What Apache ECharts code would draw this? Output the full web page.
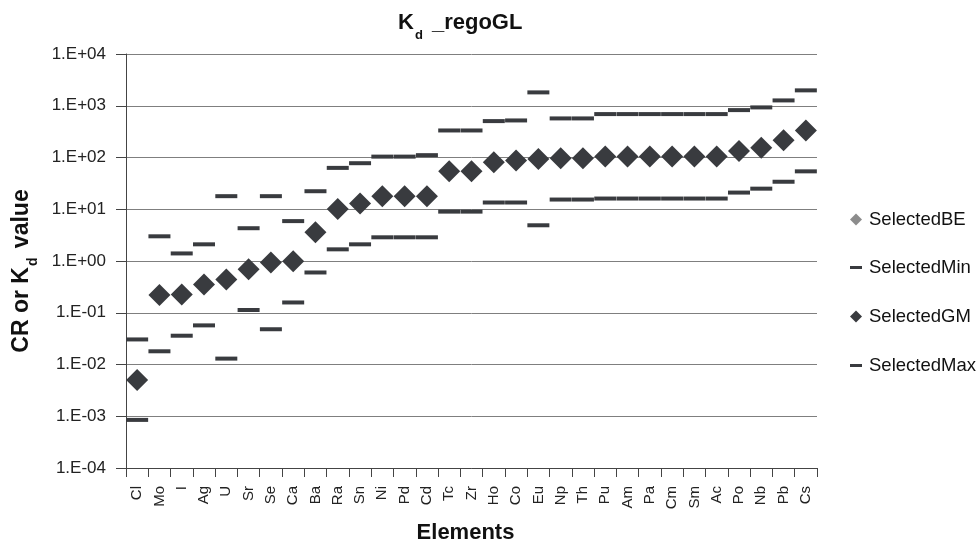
<!DOCTYPE html>
<html>
<head>
<meta charset="utf-8">
<script src="https://cdn.jsdelivr.net/npm/echarts@6/dist/echarts.min.js"></script>
<style>
  html, body { margin: 0; padding: 0; background: #fff; }
  #chart { width: 978px; height: 544px; }
</style>
</head>
<body>
<div id="chart"></div>
<script>
// Elements along the x axis
const elements = ['Cl', 'Mo', 'I', 'Ag', 'U', 'Sr', 'Se', 'Ca', 'Ba', 'Ra', 'Sn', 'Ni', 'Pd', 'Cd',
  'Tc', 'Zr', 'Ho', 'Co', 'Eu', 'Np', 'Th', 'Pu', 'Am', 'Pa', 'Cm', 'Sm', 'Ac', 'Po', 'Nb', 'Pb', 'Cs'];

// Best estimates (no values plotted for this set)
const selectedBE = elements.map(() => null);

// Lower bounds
const selectedMin = [0.00085, 0.018, 0.036, 0.057, 0.013, 0.113, 0.048, 0.158, 0.60, 1.68, 2.1, 2.87, 2.87, 2.87,
  9.0, 9.0, 13.5, 13.5, 4.9, 15.4, 15.4, 16.1, 16.1, 16.1, 16.1, 16.1, 16.1, 21, 25, 34, 54];

// Geometric means
const selectedGM = [0.005, 0.22, 0.226, 0.35, 0.44, 0.69, 0.94, 0.99, 3.6, 10.1, 12.9, 17.9, 17.9, 17.9,
  54, 54, 81, 87.5, 94, 97, 97, 104.5, 104.5, 104.5, 104.5, 104.5, 104.5, 133, 154, 216, 333];

// Upper bounds
const selectedMax = [0.0305, 3.0, 1.4, 2.1, 17.9, 4.3, 17.9, 5.9, 22.3, 63, 77.6, 104, 104, 111,
  333, 333, 505, 520, 1812, 569, 569, 690, 690, 690, 690, 690, 690, 824, 929, 1268, 1983];

// y-axis range (decades)
const yMin = 1e-4;
const yMax = 1e4;

const markColor = '#393b3f';
const fontFamily = '"Liberation Sans", Arial, sans-serif';

function sciLabel(v) {
  const e = Math.round(Math.log10(v));
  return '1.E' + (e < 0 ? '-' : '+') + String(Math.abs(e)).padStart(2, '0');
}

// rich-text styles for a bold label with a lowered subscript:
// main text hangs from the top of the line, the subscript rests on its bottom
function boldRich(size, subSize) {
  return {
    a: { fontFamily: fontFamily, fontSize: size, fontWeight: 'bold', color: '#111', verticalAlign: 'top', lineHeight: 26 },
    s: { fontFamily: fontFamily, fontSize: subSize, fontWeight: 'bold', color: '#111', verticalAlign: 'bottom', lineHeight: 30, padding: [0, 3, 0, 1] }
  };
}

const chart = echarts.init(document.getElementById('chart'), null, { renderer: 'canvas' });

function legendItem(name, icon, w, h, top) {
  return {
    data: [{ name: name, icon: icon }],
    orient: 'vertical',
    left: 850,
    top: top,
    padding: 0,
    itemWidth: w,
    itemHeight: h,
    itemGap: 0,
    textStyle: { fontFamily: fontFamily, fontSize: 18.5, color: '#111', padding: [0, 0, 0, 2] }
  };
}

chart.setOption({
  animation: false,
  backgroundColor: '#ffffff',
  textStyle: { fontFamily: fontFamily },
  title: {
    text: '{a|K}{s|d}{a| _regoGL}',
    left: 398,
    top: 12,
    padding: 0,
    textStyle: { rich: boldRich(22, 13) }
  },
  legend: [
    legendItem('SelectedBE', 'diamond', 12, 12, 210),
    legendItem('SelectedMin', 'rect', 12, 3, 258),
    legendItem('SelectedGM', 'diamond', 12, 12, 307),
    legendItem('SelectedMax', 'rect', 12, 3, 356)
  ],
  grid: { left: 126, right: 161, top: 54, bottom: 76, containLabel: false, outerBoundsMode: 'none' },
  xAxis: {
    type: 'category',
    data: elements,
    boundaryGap: true,
    name: 'Elements',
    nameLocation: 'middle',
    nameGap: 54,
    nameTextStyle: { fontFamily: fontFamily, fontSize: 22, fontWeight: 'bold', color: '#111', padding: [0, 12, 0, 0] },
    axisLine: { lineStyle: { color: '#444', width: 1 } },
    axisTick: { show: true, length: 9, alignWithLabel: false, lineStyle: { color: '#444' } },
    axisLabel: { rotate: 90, margin: 18, fontSize: 15, color: '#222', fontFamily: fontFamily, interval: 0 },
    splitLine: { show: false }
  },
  yAxis: {
    type: 'log',
    logBase: 10,
    min: yMin,
    max: yMax,
    splitNumber: 8,
    name: '{a|CR or K}{s|d}{a| value}',
    nameLocation: 'middle',
    nameGap: 86,
    nameRotate: 90,
    nameTextStyle: { rich: boldRich(23, 14), padding: [0, 20, 0, 0] },
    axisLine: { show: true, lineStyle: { color: '#444', width: 1 } },
    axisTick: { show: true, length: 10, lineStyle: { color: '#444' } },
    axisLabel: { margin: 20, fontSize: 17, color: '#222', fontFamily: fontFamily, formatter: sciLabel },
    splitLine: { show: true, lineStyle: { color: '#7f7f7f', width: 1 } }
  },
  series: [
    {
      name: 'SelectedBE', type: 'scatter', data: selectedBE,
      symbol: 'diamond', symbolSize: [22, 22],
      itemStyle: { color: '#8c8c8c', opacity: 1 }
    },
    {
      name: 'SelectedMin', type: 'scatter', data: selectedMin,
      symbol: 'rect', symbolSize: [22, 4],
      itemStyle: { color: markColor, opacity: 1 }
    },
    {
      name: 'SelectedGM', type: 'scatter', data: selectedGM,
      symbol: 'diamond', symbolSize: [22, 22],
      itemStyle: { color: markColor, opacity: 1 }, z: 3
    },
    {
      name: 'SelectedMax', type: 'scatter', data: selectedMax,
      symbol: 'rect', symbolSize: [22, 4],
      itemStyle: { color: markColor, opacity: 1 }
    }
  ]
});
</script>
</body>
</html>
